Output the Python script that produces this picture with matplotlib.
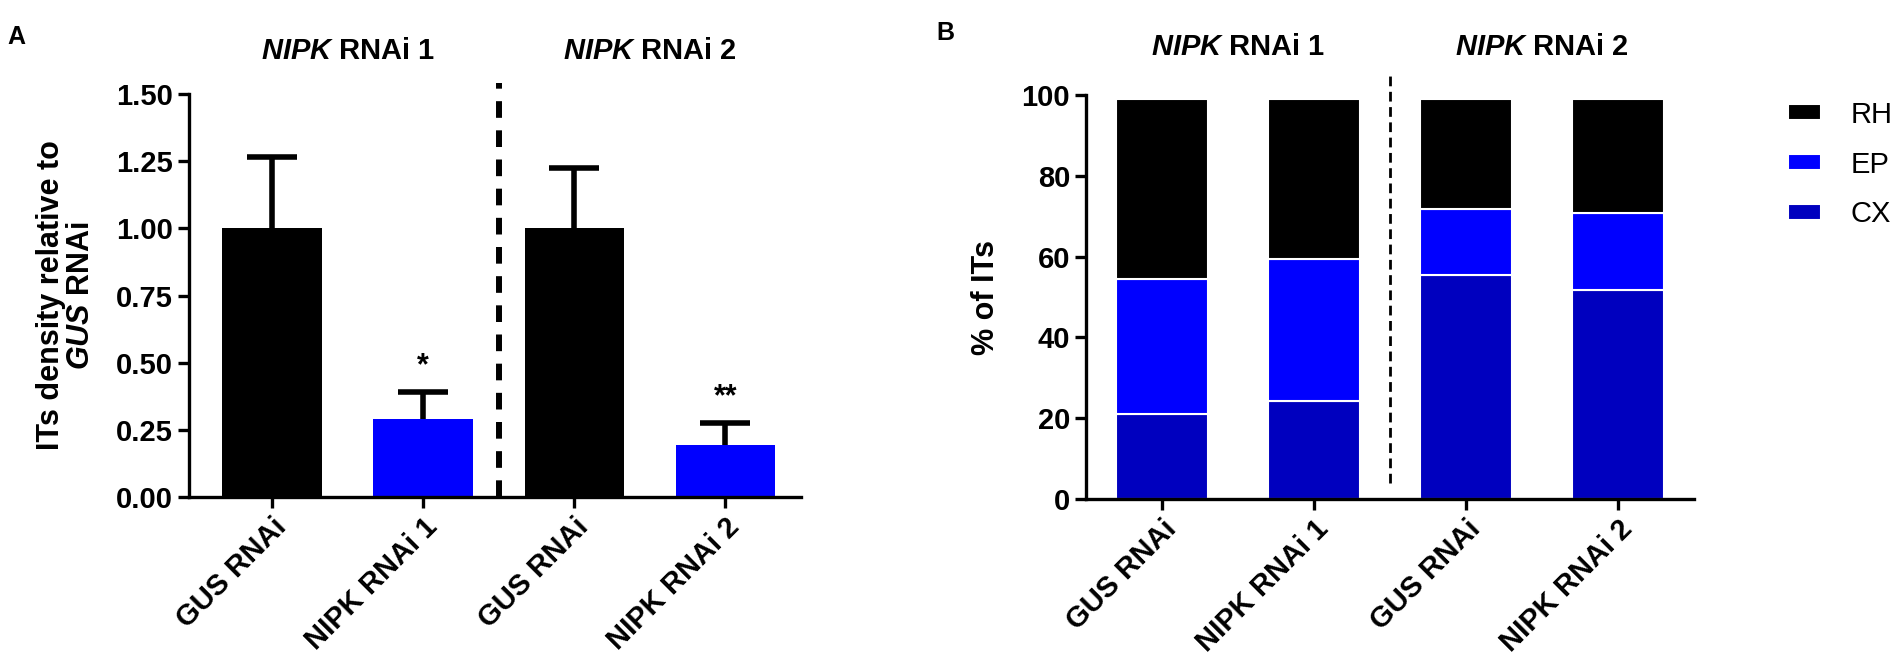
import numpy as np
import matplotlib.pyplot as plt

plt.rcParams['font.family'] = ['Liberation Sans', 'DejaVu Sans']
plt.rcParams['font.weight'] = 'bold'
plt.rcParams['axes.labelweight'] = 'bold'
plt.rcParams['mathtext.fontset'] = 'custom'
plt.rcParams['mathtext.rm'] = 'Liberation Sans:bold'
plt.rcParams['mathtext.it'] = 'Liberation Sans:italic:bold'
plt.rcParams['lines.scale_dashes'] = False

# panel A data
cats = ["GUS RNAi", "NIPK RNAi 1", "GUS RNAi", "NIPK RNAi 2"]
density = [1.00, 0.29, 1.00, 0.195]
density_err = [0.265, 0.10, 0.225, 0.08]
bar_colors = ["black", "#0000ff", "black", "#0000ff"]
stars = ["", "*", "", "**"]

# panel B data (% of ITs)
cx = [21.0, 24.3, 55.4, 51.7]
ep = [33.5, 35.1, 16.4, 19.1]
rh = [44.5, 39.6, 27.2, 28.2]

groups = [r"$\mathit{NIPK}$ RNAi 1", r"$\mathit{NIPK}$ RNAi 2"]

fig = plt.figure(figsize=(19.04, 6.71), dpi=100)
axA = fig.add_axes([0.0993, 0.2593, 0.3214, 0.6006])
axB = fig.add_axes([0.5704, 0.2563, 0.3193, 0.6021])

x = np.arange(len(cats))

for ax in (axA, axB):
    for s in ["top", "right"]:
        ax.spines[s].set_visible(False)
    for s in ["left", "bottom"]:
        ax.spines[s].set_linewidth(2.4)
    ax.tick_params(width=2.4, length=8, labelsize=21)
    ax.set_xticks(x)
    ax.set_xticklabels(cats, rotation=45, ha="right", rotation_mode="anchor")

# --- A ---
axA.bar(x, density, width=0.66, color=bar_colors, zorder=2)
eb = axA.errorbar(x, density, yerr=[np.zeros(4), density_err], fmt="none",
                  ecolor="black", elinewidth=4, capsize=18, capthick=4, zorder=3)
eb[1][0].set_visible(False)  # only the upper cap
for xi, d, e, st in zip(x, density, density_err, stars):
    if st:
        axA.text(xi, d + e + 0.04, st, ha="center", va="bottom", fontsize=22)
axA.set_xlim(-0.55, 3.5)
axA.set_ylim(0, 1.5)
axA.set_yticks([0, 0.25, 0.5, 0.75, 1.0, 1.25, 1.5])
axA.set_yticklabels(["0.00", "0.25", "0.50", "0.75", "1.00", "1.25", "1.50"])
axA.plot([1.5, 1.5], [0, 1.54], color="black", lw=4.3, dashes=(12, 9),
         clip_on=False)
axA.set_ylabel("ITs density relative to\n" + r"$\mathit{GUS}$ RNAi",
               fontsize=22, linespacing=1.0)
axA.yaxis.set_label_coords(-0.152, 0.5)
for i, g in enumerate(groups):
    axA.text(0.5 + 2 * i, 1.66, g, ha="center", va="center", fontsize=21)

# --- B ---
seg_kw = dict(width=0.61, edgecolor="white", linewidth=1.5, zorder=2)
axB.bar(x, cx, color="#0000bf", label="CX", **seg_kw)
axB.bar(x, ep, bottom=cx, color="#0000ff", label="EP", **seg_kw)
axB.bar(x, rh, bottom=np.add(cx, ep), color="black", label="RH", **seg_kw)
axB.set_xlim(-0.5, 3.5)
axB.set_ylim(0, 100)
axB.set_yticks(np.arange(0, 101, 20))
axB.plot([1.5, 1.5], [4, 106], color="black", lw=2, dashes=(7, 4),
         clip_on=False)
axB.set_ylabel("% of ITs", fontsize=22)
axB.yaxis.set_label_coords(-0.14, 0.5)
for i, g in enumerate(groups):
    axB.text(0.5 + 2 * i, 112, g, ha="center", va="center", fontsize=21)

h, l = axB.get_legend_handles_labels()
fig.legend(h[::-1], l[::-1], loc="upper left", bbox_to_anchor=(0.939, 0.85),
           frameon=False, prop=dict(size=21, weight="normal"),
           handlelength=1.15, handleheight=0.45, handletextpad=1.0,
           labelspacing=0.75, borderpad=0, borderaxespad=0)

fig.text(0.004, 0.935, "A", fontsize=18)
fig.text(0.492, 0.94, "B", fontsize=18)

fig.savefig("out.png", dpi=100)
